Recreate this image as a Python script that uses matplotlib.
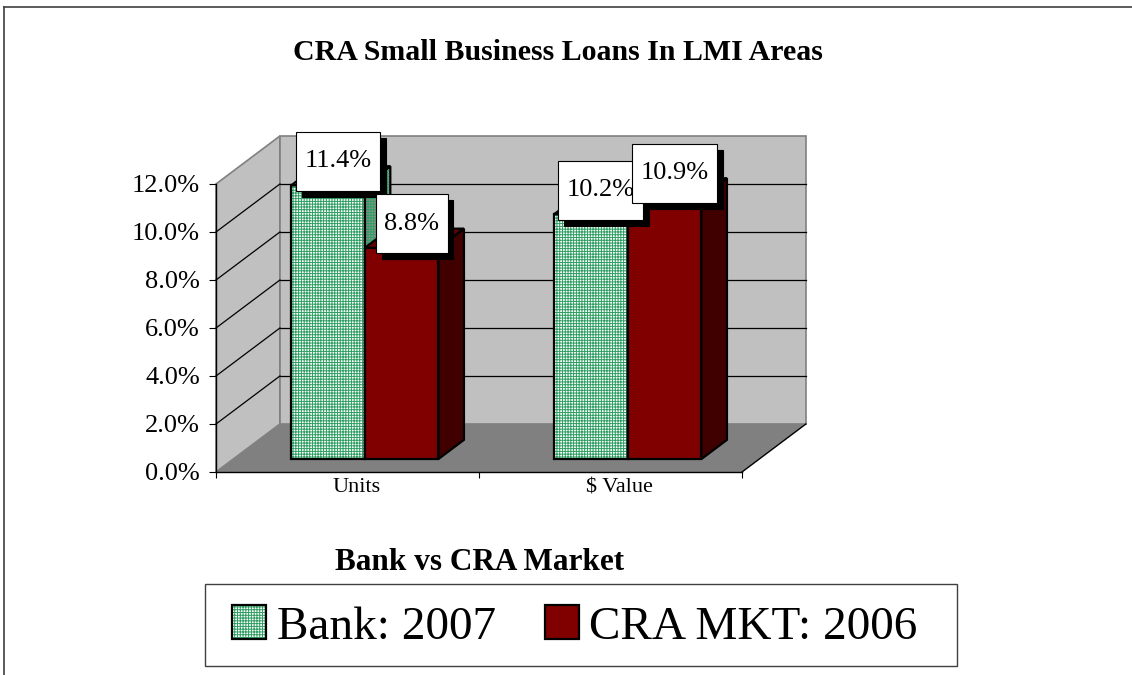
import matplotlib
matplotlib.use("Agg")
import matplotlib.pyplot as plt
import matplotlib.transforms as mtransforms
from matplotlib.patches import Polygon, Patch, Rectangle
from matplotlib.path import Path
from matplotlib.lines import Line2D
from matplotlib.legend_handler import HandlerTuple

# ---- data ----
categories = ["Units", "$ Value"]
series_names = ["Bank: 2007", "CRA MKT: 2006"]
bank_2007 = [11.4, 10.2]
cra_mkt_2006 = [8.8, 10.9]
y_ticks = [0, 2, 4, 6, 8, 10, 12]
y_tick_labels = ["0.0%", "2.0%", "4.0%", "6.0%", "8.0%", "10.0%", "12.0%"]
title = "CRA Small Business Loans In LMI Areas"
x_title = "Bank vs CRA Market"

plt.rcParams["font.family"] = ["Liberation Serif", "DejaVu Serif"]
plt.rcParams["hatch.linewidth"] = 0.7

W, H = 1132, 675
fig = plt.figure(figsize=(W / 100, H / 100), dpi=100)
ax = fig.add_axes([216 / W, (H - 472) / H, 526 / W, 288 / H])
ax.set_xlim(0, len(categories))
ax.set_ylim(y_ticks[0], y_ticks[-1])
ax.patch.set_visible(False)

# pseudo 3d depth of the floor, and bar placement inside it
DX, DY = 0.243, 2.0
f_front, f_depth = 0.27, 0.40
bw = 0.28

wall_c, floor_c, edge_c = "#C0C0C0", "#808080", "#808080"
green = "#2E9E62"
red_front, red_side, red_top = "#800000", "#400000", "#600000"

ymax = y_ticks[-1]
nx = len(categories)

def poly(pts, **kw):
    p = Polygon(pts, closed=True, clip_on=False, **kw)
    ax.add_patch(p)
    return p

# walls and floor
poly([(0, 0), (0, ymax), (DX, ymax + DY), (DX, DY)], fc=wall_c, ec=edge_c, lw=1.2, zorder=0.5)
poly([(DX, DY), (nx + DX, DY), (nx + DX, ymax + DY), (DX, ymax + DY)],
     fc=wall_c, ec=edge_c, lw=1.2, zorder=0.5)
poly([(0, 0), (nx, 0), (nx + DX, DY), (DX, DY)], fc=floor_c, ec="none", zorder=0.6)
ax.plot([nx, nx + DX], [0, DY], color="black", lw=1, clip_on=False, zorder=0.7)
for t in y_ticks[1:-1]:
    ax.plot([0, DX], [t, t + DY], color="black", lw=0.9, clip_on=False, zorder=0.7)
    ax.plot([DX, nx + DX], [t + DY, t + DY], color="black", lw=0.9, clip_on=False, zorder=0.7)


def bar3d(x0, v, z, front, side, top, hatch_c=None):
    y0 = f_front * DY
    ddx, ddy = f_depth * DX, f_depth * DY
    faces = [
        [(x0, y0), (x0 + bw, y0), (x0 + bw, y0 + v), (x0, y0 + v)],
        [(x0 + bw, y0), (x0 + bw + ddx, y0 + ddy), (x0 + bw + ddx, y0 + v + ddy), (x0 + bw, y0 + v)],
        [(x0, y0 + v), (x0 + bw, y0 + v), (x0 + bw + ddx, y0 + v + ddy), (x0 + ddx, y0 + v + ddy)],
    ]
    for pts, fc in zip(faces, [front, side, top]):
        if hatch_c is not None:
            poly(pts, fc=fc, ec=hatch_c, lw=0, hatch="++++++", zorder=z)
            poly(pts, fill=False, ec="black", lw=1.6, zorder=z + 0.01)
        else:
            poly(pts, fc=fc, ec="black", lw=1.6, zorder=z)


label_anchor = []
for i in range(nx):
    base = i + 0.5 - bw + f_front * DX
    bar3d(base, bank_2007[i], 3 + i, "white", "#8C948F", "#DADADA", hatch_c=green)
    bar3d(base + bw, cra_mkt_2006[i], 3.5 + i, red_front, red_side, red_top)
    label_anchor.append((base + bw / 2, bank_2007[i]))
    label_anchor.append((base + 1.5 * bw, cra_mkt_2006[i]))


def label_box(x0, y0, width, height, mutation_size):
    px = 0.32 * mutation_size
    py = 0.70 * mutation_size
    return Path([(x0 - px, y0 - py), (x0 + width + px, y0 - py),
                 (x0 + width + px, y0 + height + py), (x0 - px, y0 + height + py),
                 (x0 - px, y0 - py)], closed=True)


for (xc, v) in label_anchor:
    xy = (xc, v + f_front * DY)
    txt = "%.1f%%" % v
    ax.annotate(txt, xy, xytext=(11.5, 13.0), textcoords="offset points",
                ha="center", va="center", fontsize=19, color="black",
                bbox=dict(boxstyle=label_box, fc="black", ec="black", lw=0.8),
                annotation_clip=False, zorder=8)
    ax.annotate(txt, xy, xytext=(7.2, 17.3), textcoords="offset points",
                ha="center", va="center", fontsize=19, color="black",
                bbox=dict(boxstyle=label_box, fc="white", ec="black", lw=0.8),
                annotation_clip=False, zorder=9)

# axes
for s in ["top", "right"]:
    ax.spines[s].set_visible(False)
for s in ["left", "bottom"]:
    ax.spines[s].set_color("black")
    ax.spines[s].set_linewidth(1.0)
ax.set_yticks(y_ticks)
ax.set_yticklabels(y_tick_labels)
ax.tick_params(axis="y", direction="out", length=5, width=0.8, pad=6.5, labelsize=19)
ax.set_xticks(range(nx + 1))
ax.set_xticklabels([])
ax.tick_params(axis="x", which="major", direction="out", length=4.3, width=0.8)
ax.set_xticks([i + 0.5 for i in range(nx)], minor=True)
ax.set_xticklabels(categories, minor=True)
ax.tick_params(axis="x", which="minor", length=0, labelsize=16, pad=4.5)
shift = mtransforms.ScaledTranslation(0.09, 0, fig.dpi_scale_trans)
for lbl in ax.xaxis.get_minorticklabels():
    lbl.set_transform(lbl.get_transform() + shift)

fig.text(558 / W, 1 - 52 / H, title, ha="center", va="center", fontsize=21.5, fontweight="bold")
fig.text(480 / W, 1 - 562 / H, x_title, ha="center", va="center", fontsize=22.5, fontweight="bold")

# legend
h_bank = (Patch(fc="white", ec=green, lw=0, hatch="++++++"),
          Patch(fill=False, ec="black", lw=1.6))
h_cra = Patch(fc=red_front, ec="black", lw=1.6)
leg = fig.legend([h_bank, h_cra], series_names, loc="center left",
                 bbox_to_anchor=(232 / W, 1 - 627 / H), ncol=2, frameon=False,
                 fontsize=34, borderpad=0, borderaxespad=0, handlelength=0.72,
                 handleheight=0.70, handletextpad=0.23, columnspacing=1.03,
                 handler_map={tuple: HandlerTuple(ndivide=1)})
fig.add_artist(Rectangle((205 / W, (H - 666) / H), (957 - 205) / W, 82 / H,
                         transform=fig.transFigure, fill=False, ec="#404040", lw=1.0))

# outer frame (top and left edges visible)
fig.add_artist(Line2D([4 / W, 1], [1 - 7 / H, 1 - 7 / H], transform=fig.transFigure,
                      color="#404040", lw=1.2))
fig.add_artist(Line2D([4 / W, 4 / W], [0, 1 - 7 / H], transform=fig.transFigure,
                      color="#404040", lw=1.2))

fig.savefig("out.png", dpi=100)
